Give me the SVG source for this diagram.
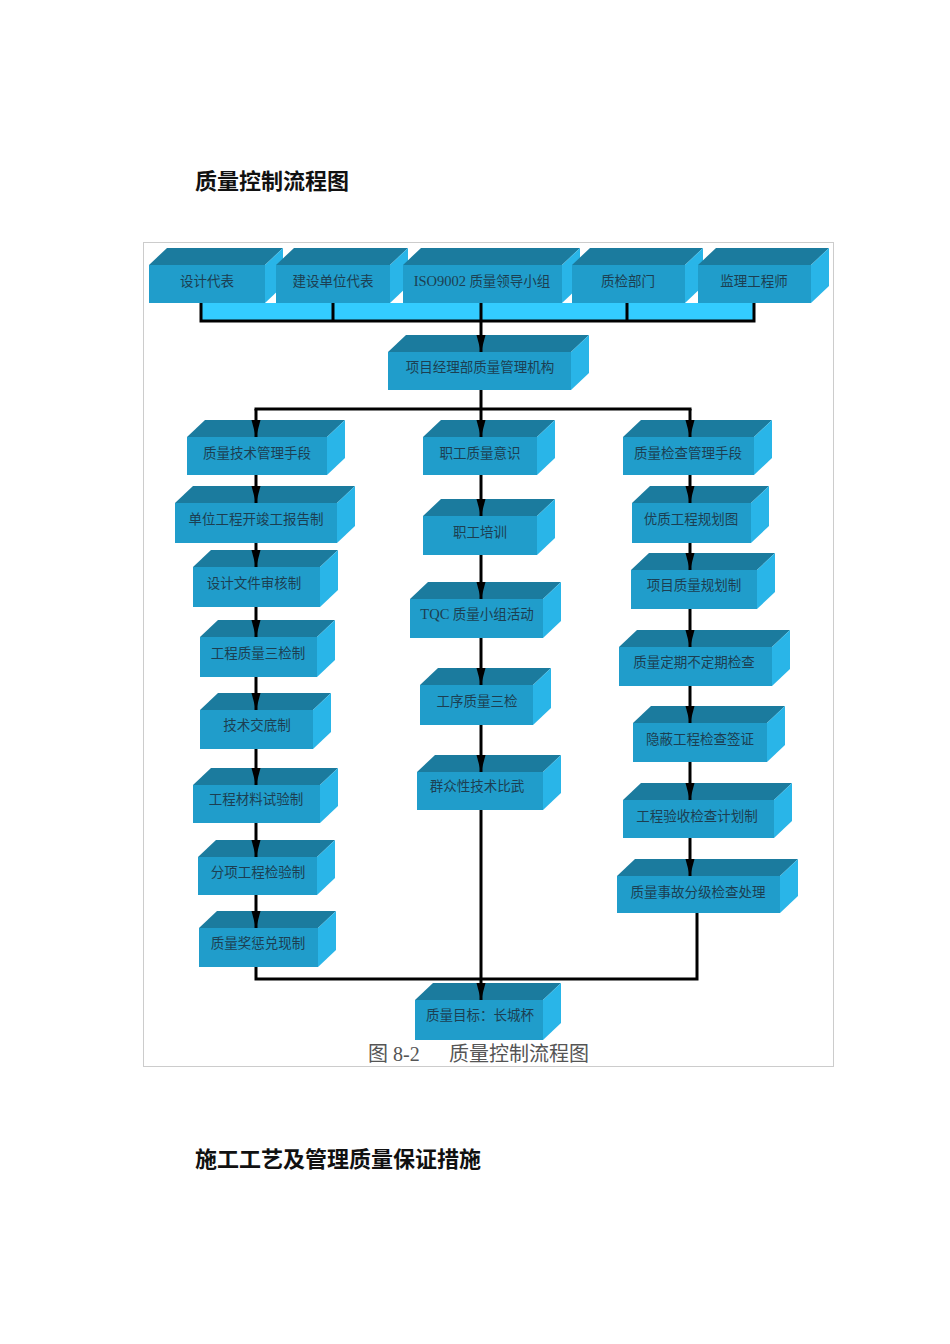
<svg xmlns="http://www.w3.org/2000/svg" width="950" height="1344" viewBox="0 0 950 1344">
<style>
.front{fill:#209DCB}
.top{fill:#1B7B9E}
.side{fill:#29B5E8}
.lbl{font-family:"Liberation Serif","Noto Sans CJK SC",serif;font-size:13.5px;fill:#1C3F52;text-anchor:middle;dominant-baseline:central}
.lat{font-size:14.5px}
.title{font-family:"Noto Sans CJK SC",sans-serif;font-size:22px;font-weight:bold;fill:#111}
.cap{font-family:"Liberation Serif","Noto Sans CJK SC",serif;font-size:20px;fill:#555}
.ln{stroke:#000;stroke-width:3;fill:none}
.arr{stroke:#000;stroke-width:3;fill:none;marker-end:url(#ah)}
</style>
<defs>
<marker id="ah" markerUnits="userSpaceOnUse" markerWidth="18" markerHeight="10" refX="17" refY="4.5" orient="auto">
<path d="M0,0 L17,4.5 L0,9 z" fill="#000"/>
</marker>
</defs>
<rect width="950" height="1344" fill="#fff"/>
<text class="title" x="195" y="189">质量控制流程图</text>
<rect x="143.5" y="242.5" width="690" height="824" fill="none" stroke="#cccccc" stroke-width="1"/>
<rect x="200" y="303" width="554" height="18" fill="#33CCFF"/>

<g id="n-design">
<polygon class="top" points="149,265 167,248 283,248 265,265"/><polygon class="side" points="265,265 283,248 283,286 265,303"/><rect class="front" x="149" y="265" width="116" height="38"/><text class="lbl" x="207" y="281">设计代表</text></g>
<g id="n-owner">
<polygon class="top" points="276,265 294,248 408,248 390,265"/><polygon class="side" points="390,265 408,248 408,286 390,303"/><rect class="front" x="276" y="265" width="114" height="38"/><text class="lbl" x="333" y="281">建设单位代表</text></g>
<g id="n-iso">
<polygon class="top" points="403,265 421,248 580,248 562,265"/><polygon class="side" points="562,265 580,248 580,286 562,303"/><rect class="front" x="403" y="265" width="159" height="38"/><text class="lbl" x="482" y="281"><tspan class="lat">ISO9002</tspan> 质量领导小组</text></g>
<g id="n-qc">
<polygon class="top" points="572,265 590,248 703,248 685,265"/><polygon class="side" points="685,265 703,248 703,286 685,303"/><rect class="front" x="572" y="265" width="113" height="38"/><text class="lbl" x="628" y="281">质检部门</text></g>
<g id="n-super">
<polygon class="top" points="698,265 716,248 829,248 811,265"/><polygon class="side" points="811,265 829,248 829,286 811,303"/><rect class="front" x="698" y="265" width="113" height="38"/><text class="lbl" x="754" y="281">监理工程师</text></g>

<g id="n-pm">
<polygon class="top" points="388,352 406,335 589,335 571,352"/><polygon class="side" points="571,352 589,335 589,373 571,390"/><rect class="front" x="388" y="352" width="183" height="38"/><text class="lbl" x="480" y="367">项目经理部质量管理机构</text></g>

<g id="n-l1">
<polygon class="top" points="187,437 205,420 345,420 327,437"/><polygon class="side" points="327,437 345,420 345,458 327,475"/><rect class="front" x="187" y="437" width="140" height="38"/><text class="lbl" x="257" y="453">质量技术管理手段</text></g>
<g id="n-l2">
<polygon class="top" points="175,503 193,486 355,486 337,503"/><polygon class="side" points="337,503 355,486 355,526 337,543"/><rect class="front" x="175" y="503" width="162" height="40"/><text class="lbl" x="256" y="519">单位工程开竣工报告制</text></g>
<g id="n-l3">
<polygon class="top" points="193,567 211,550 338,550 320,567"/><polygon class="side" points="320,567 338,550 338,590 320,607"/><rect class="front" x="193" y="567" width="127" height="40"/><text class="lbl" x="254" y="583">设计文件审核制</text></g>
<g id="n-l4">
<polygon class="top" points="200,637 218,620 335,620 317,637"/><polygon class="side" points="317,637 335,620 335,660 317,677"/><rect class="front" x="200" y="637" width="117" height="40"/><text class="lbl" x="258" y="653">工程质量三检制</text></g>
<g id="n-l5">
<polygon class="top" points="200,710 218,693 331,693 313,710"/><polygon class="side" points="313,710 331,693 331,732 313,749"/><rect class="front" x="200" y="710" width="113" height="39"/><text class="lbl" x="257" y="725">技术交底制</text></g>
<g id="n-l6">
<polygon class="top" points="193,785 211,768 338,768 320,785"/><polygon class="side" points="320,785 338,768 338,806 320,823"/><rect class="front" x="193" y="785" width="127" height="38"/><text class="lbl" x="256" y="799">工程材料试验制</text></g>
<g id="n-l7">
<polygon class="top" points="198,857 216,840 335,840 317,857"/><polygon class="side" points="317,857 335,840 335,878 317,895"/><rect class="front" x="198" y="857" width="119" height="38"/><text class="lbl" x="258" y="872">分项工程检验制</text></g>
<g id="n-l8">
<polygon class="top" points="199,928 217,911 336,911 318,928"/><polygon class="side" points="318,928 336,911 336,950 318,967"/><rect class="front" x="199" y="928" width="119" height="39"/><text class="lbl" x="258" y="943">质量奖惩兑现制</text></g>

<g id="n-m1">
<polygon class="top" points="423,437 441,420 555,420 537,437"/><polygon class="side" points="537,437 555,420 555,458 537,475"/><rect class="front" x="423" y="437" width="114" height="38"/><text class="lbl" x="480" y="453">职工质量意识</text></g>
<g id="n-m2">
<polygon class="top" points="423,516 441,499 555,499 537,516"/><polygon class="side" points="537,516 555,499 555,538 537,555"/><rect class="front" x="423" y="516" width="114" height="39"/><text class="lbl" x="480" y="532">职工培训</text></g>
<g id="n-m3">
<polygon class="top" points="410,599 428,582 561,582 543,599"/><polygon class="side" points="543,599 561,582 561,621 543,638"/><rect class="front" x="410" y="599" width="133" height="39"/><text class="lbl" x="477" y="614"><tspan class="lat">TQC</tspan> 质量小组活动</text></g>
<g id="n-m4">
<polygon class="top" points="420,685 438,668 551,668 533,685"/><polygon class="side" points="533,685 551,668 551,708 533,725"/><rect class="front" x="420" y="685" width="113" height="40"/><text class="lbl" x="477" y="701">工序质量三检</text></g>
<g id="n-m5">
<polygon class="top" points="417,772 435,755 561,755 543,772"/><polygon class="side" points="543,772 561,755 561,793 543,810"/><rect class="front" x="417" y="772" width="126" height="38"/><text class="lbl" x="477" y="786">群众性技术比武</text></g>

<g id="n-r1">
<polygon class="top" points="623,437 641,420 772,420 754,437"/><polygon class="side" points="754,437 772,420 772,458 754,475"/><rect class="front" x="623" y="437" width="131" height="38"/><text class="lbl" x="688" y="453">质量检查管理手段</text></g>
<g id="n-r2">
<polygon class="top" points="632,503 650,486 769,486 751,503"/><polygon class="side" points="751,503 769,486 769,526 751,543"/><rect class="front" x="632" y="503" width="119" height="40"/><text class="lbl" x="691" y="519">优质工程规划图</text></g>
<g id="n-r3">
<polygon class="top" points="631,570 649,553 775,553 757,570"/><polygon class="side" points="757,570 775,553 775,592 757,609"/><rect class="front" x="631" y="570" width="126" height="39"/><text class="lbl" x="694" y="585">项目质量规划制</text></g>
<g id="n-r4">
<polygon class="top" points="619,647 637,630 790,630 772,647"/><polygon class="side" points="772,647 790,630 790,669 772,686"/><rect class="front" x="619" y="647" width="153" height="39"/><text class="lbl" x="694" y="662">质量定期不定期检查</text></g>
<g id="n-r5">
<polygon class="top" points="633,723 651,706 785,706 767,723"/><polygon class="side" points="767,723 785,706 785,745 767,762"/><rect class="front" x="633" y="723" width="134" height="39"/><text class="lbl" x="700" y="739">隐蔽工程检查签证</text></g>
<g id="n-r6">
<polygon class="top" points="623,800 641,783 792,783 774,800"/><polygon class="side" points="774,800 792,783 792,821 774,838"/><rect class="front" x="623" y="800" width="151" height="38"/><text class="lbl" x="697" y="816">工程验收检查计划制</text></g>
<g id="n-r7">
<polygon class="top" points="617,876 635,859 798,859 780,876"/><polygon class="side" points="780,876 798,859 798,896 780,913"/><rect class="front" x="617" y="876" width="163" height="37"/><text class="lbl" x="698" y="892">质量事故分级检查处理</text></g>

<g id="n-goal">
<polygon class="top" points="415,1000 433,983 561,983 543,1000"/><polygon class="side" points="543,1000 561,983 561,1023 543,1040"/><rect class="front" x="415" y="1000" width="128" height="40"/><text class="lbl" x="480" y="1015">质量目标：长城杯</text></g>

<g id="connectors">
<path class="ln" d="M201,303 V321 M333,303 V321 M481,303 V321 M627,303 V321 M754,303 V321 M199.5,321 H755.5"/>
<path class="arr" d="M481,321 V352"/>
<path class="ln" d="M481,390 V409 M254.5,409 H691.5"/>
<path class="arr" d="M256,409 V437"/>
<path class="arr" d="M481,409 V437"/>
<path class="arr" d="M690,409 V437"/>
<path class="arr" d="M256,475 V503"/>
<path class="arr" d="M256,543 V567"/>
<path class="arr" d="M256,607 V637"/>
<path class="arr" d="M256,677 V710"/>
<path class="arr" d="M256,749 V785"/>
<path class="arr" d="M256,823 V857"/>
<path class="arr" d="M256,895 V928"/>
<path class="ln" d="M256,967 V979 H481"/>
<path class="arr" d="M481,475 V516"/>
<path class="arr" d="M481,555 V599"/>
<path class="arr" d="M481,638 V685"/>
<path class="arr" d="M481,725 V772"/>
<path class="arr" d="M481,810 V1000"/>
<path class="arr" d="M690,475 V503"/>
<path class="arr" d="M690,543 V570"/>
<path class="arr" d="M690,609 V647"/>
<path class="arr" d="M690,686 V723"/>
<path class="arr" d="M690,762 V800"/>
<path class="arr" d="M690,838 V876"/>
<path class="ln" d="M697,913 V979 H481"/>
</g>

<text class="cap" x="368" y="1061">图 8-2</text>
<text class="cap" x="449" y="1061">质量控制流程图</text>
<text class="title" x="195" y="1167">施工工艺及管理质量保证措施</text>
</svg>
